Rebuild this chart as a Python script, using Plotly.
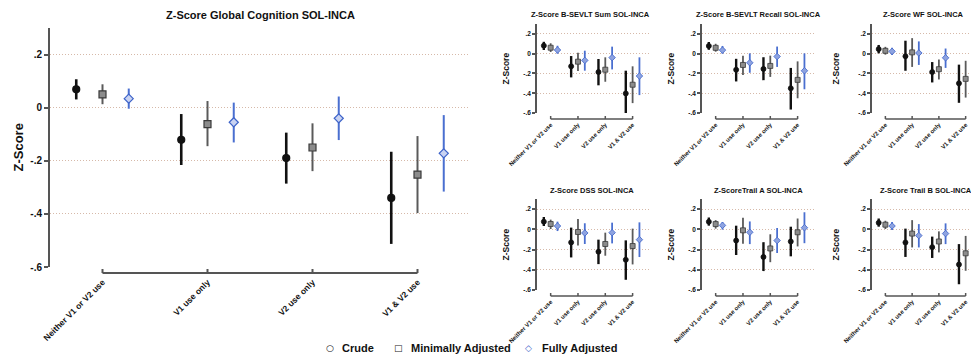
import plotly.graph_objects as go

CATEGORIES = ["Neither V1 or V2 use", "V1 use only", "V2 use only", "V1 & V2 use"]
MODELS = ["Crude", "Minimally Adjusted", "Fully Adjusted"]
Y_TICK_VALUES = [-0.6, -0.4, -0.2, 0, 0.2]
Y_TICK_LABELS = ["-.6", "-.4", "-.2", "0", ".2"]

GLOBAL_CRUDE = [0.069, -0.121, -0.190, -0.340]
GLOBAL_CRUDE_LO = [0.031, -0.216, -0.286, -0.513]
GLOBAL_CRUDE_HI = [0.107, -0.024, -0.094, -0.166]
GLOBAL_MIN = [0.050, -0.062, -0.150, -0.252]
GLOBAL_MIN_LO = [0.013, -0.145, -0.239, -0.397]
GLOBAL_MIN_HI = [0.088, 0.025, -0.059, -0.107]
GLOBAL_FULL = [0.034, -0.055, -0.040, -0.172]
GLOBAL_FULL_LO = [-0.004, -0.131, -0.122, -0.316]
GLOBAL_FULL_HI = [0.072, 0.019, 0.042, -0.028]

SUM_CRUDE = [0.081, -0.128, -0.186, -0.402]
SUM_CRUDE_LO = [0.037, -0.240, -0.320, -0.638]
SUM_CRUDE_HI = [0.120, -0.024, -0.054, -0.172]
SUM_MIN = [0.060, -0.081, -0.162, -0.314]
SUM_MIN_LO = [0.017, -0.176, -0.284, -0.500]
SUM_MIN_HI = [0.105, 0.010, -0.037, -0.128]
SUM_FULL = [0.037, -0.068, -0.040, -0.226]
SUM_FULL_LO = [0.000, -0.172, -0.159, -0.419]
SUM_FULL_HI = [0.080, 0.030, 0.071, -0.037]

RECALL_CRUDE = [0.078, -0.163, -0.154, -0.350]
RECALL_CRUDE_LO = [0.039, -0.281, -0.268, -0.565]
RECALL_CRUDE_HI = [0.118, -0.052, -0.036, -0.144]
RECALL_MIN = [0.059, -0.114, -0.124, -0.265]
RECALL_MIN_LO = [0.020, -0.216, -0.235, -0.451]
RECALL_MIN_HI = [0.100, -0.020, -0.020, -0.078]
RECALL_FULL = [0.036, -0.092, -0.029, -0.173]
RECALL_FULL_LO = [0.000, -0.193, -0.134, -0.360]
RECALL_FULL_HI = [0.078, 0.003, 0.072, 0.003]

WF_CRUDE = [0.046, -0.026, -0.186, -0.300]
WF_CRUDE_LO = [0.003, -0.173, -0.291, -0.497]
WF_CRUDE_HI = [0.088, 0.131, -0.085, -0.111]
WF_MIN = [0.029, 0.013, -0.157, -0.255]
WF_MIN_LO = [-0.010, -0.134, -0.261, -0.444]
WF_MIN_HI = [0.069, 0.157, -0.059, -0.072]
WF_FULL = [0.023, 0.007, -0.042, -0.172]
WF_FULL_LO = [-0.013, -0.114, -0.144, -0.350]
WF_FULL_HI = [0.059, 0.124, 0.052, 0.010]

DSS_CRUDE = [0.076, -0.129, -0.221, -0.301]
DSS_CRUDE_LO = [0.033, -0.278, -0.344, -0.499]
DSS_CRUDE_HI = [0.122, 0.017, -0.102, -0.109]
DSS_MIN = [0.053, -0.026, -0.145, -0.165]
DSS_MIN_LO = [0.003, -0.159, -0.261, -0.347]
DSS_MIN_HI = [0.096, 0.102, -0.033, 0.007]
DSS_FULL = [0.033, -0.036, -0.033, -0.102]
DSS_FULL_LO = [-0.017, -0.145, -0.139, -0.274]
DSS_FULL_HI = [0.076, 0.060, 0.066, 0.069]

TRAILA_CRUDE = [0.075, -0.111, -0.273, -0.120]
TRAILA_CRUDE_LO = [0.036, -0.254, -0.413, -0.267]
TRAILA_CRUDE_HI = [0.117, 0.036, -0.127, 0.026]
TRAILA_MIN = [0.052, -0.010, -0.189, -0.029]
TRAILA_MIN_LO = [0.007, -0.143, -0.325, -0.169]
TRAILA_MIN_HI = [0.091, 0.114, -0.049, 0.107]
TRAILA_FULL = [0.039, -0.029, -0.111, 0.016]
TRAILA_FULL_LO = [-0.003, -0.146, -0.234, -0.137]
TRAILA_FULL_HI = [0.072, 0.078, 0.013, 0.169]

TRAILB_CRUDE = [0.065, -0.130, -0.176, -0.348]
TRAILB_CRUDE_LO = [0.026, -0.273, -0.283, -0.543]
TRAILB_CRUDE_HI = [0.107, 0.007, -0.072, -0.146]
TRAILB_MIN = [0.046, -0.042, -0.120, -0.237]
TRAILB_MIN_LO = [0.003, -0.179, -0.228, -0.410]
TRAILB_MIN_HI = [0.085, 0.091, -0.020, -0.065]
TRAILB_FULL = [0.033, -0.062, -0.042, -0.190]
TRAILB_FULL_LO = [-0.007, -0.179, -0.146, -0.360]
TRAILB_FULL_HI = [0.072, 0.052, 0.059, -0.020]

PANELS = [
    ("Z-Score Global Cognition SOL-INCA",
     [(GLOBAL_CRUDE, GLOBAL_CRUDE_LO, GLOBAL_CRUDE_HI), (GLOBAL_MIN, GLOBAL_MIN_LO, GLOBAL_MIN_HI),
      (GLOBAL_FULL, GLOBAL_FULL_LO, GLOBAL_FULL_HI)]),
    ("Z-Score B-SEVLT Sum SOL-INCA",
     [(SUM_CRUDE, SUM_CRUDE_LO, SUM_CRUDE_HI), (SUM_MIN, SUM_MIN_LO, SUM_MIN_HI),
      (SUM_FULL, SUM_FULL_LO, SUM_FULL_HI)]),
    ("Z-Score B-SEVLT Recall SOL-INCA",
     [(RECALL_CRUDE, RECALL_CRUDE_LO, RECALL_CRUDE_HI), (RECALL_MIN, RECALL_MIN_LO, RECALL_MIN_HI),
      (RECALL_FULL, RECALL_FULL_LO, RECALL_FULL_HI)]),
    ("Z-Score WF SOL-INCA",
     [(WF_CRUDE, WF_CRUDE_LO, WF_CRUDE_HI), (WF_MIN, WF_MIN_LO, WF_MIN_HI),
      (WF_FULL, WF_FULL_LO, WF_FULL_HI)]),
    ("Z-Score DSS SOL-INCA",
     [(DSS_CRUDE, DSS_CRUDE_LO, DSS_CRUDE_HI), (DSS_MIN, DSS_MIN_LO, DSS_MIN_HI),
      (DSS_FULL, DSS_FULL_LO, DSS_FULL_HI)]),
    ("Z-ScoreTrail A SOL-INCA",
     [(TRAILA_CRUDE, TRAILA_CRUDE_LO, TRAILA_CRUDE_HI), (TRAILA_MIN, TRAILA_MIN_LO, TRAILA_MIN_HI),
      (TRAILA_FULL, TRAILA_FULL_LO, TRAILA_FULL_HI)]),
    ("Z-Score Trail B SOL-INCA",
     [(TRAILB_CRUDE, TRAILB_CRUDE_LO, TRAILB_CRUDE_HI), (TRAILB_MIN, TRAILB_MIN_LO, TRAILB_MIN_HI),
      (TRAILB_FULL, TRAILB_FULL_LO, TRAILB_FULL_HI)]),
]

W, H = 971, 360
FONT = "Liberation Sans, Arial, sans-serif"
GRID = "#d6b9a9"
AXC = "#555555"

# layout geometry in pixels: (left, right, top, bottom, xmax, title_x, title_y, ylabel_x, big)
GEOM = [
    (50, 470, 28, 267, 3.5, 260, 15, 18, True),
    (537, 649, 24, 113, 3.6, 590, 15, 505, False),
    (702, 814, 24, 113, 3.6, 758, 15, 670, False),
    (872, 971, 24, 113, 3.2, 923, 15, 835, False),
    (537, 649, 199, 290, 3.6, 592, 190, 505, False),
    (702, 814, 199, 290, 3.6, 758, 190, 670, False),
    (872, 971, 199, 290, 3.2, 926, 190, 835, False),
]

MODEL_STYLE = [
    dict(offset=-0.25, color="#111111", symbol="circle", fill="#111111", fill_small="#111111",
         line="#111111", glyph="○"),
    dict(offset=0.0, color="#5a5a5a", symbol="square", fill="#8c8c8c", fill_small="#8c8c8c",
         line="#3a3a3a", glyph="□"),
    dict(offset=0.25, color="#4a6fd0", symbol="diamond", fill="#c9d3f2", fill_small="#8ea3e0",
         line="#3d63c9", glyph="◇"),
]
LEGEND_PX = [(330, 340), (398, 409), (528, 540)]

def px(p):
    return p / W

def py(p):
    return 1 - p / H

fig = go.Figure()
layout = dict(width=W, height=H, margin=dict(l=0, r=0, t=0, b=0, autoexpand=False),
              paper_bgcolor="white", plot_bgcolor="white", template="none",
              font=dict(family=FONT, color="#111"), showlegend=False)
annotations = []
shapes = []

for i, ((title, series), (l, r, t, b, xmax, tx, ty, ylx, big)) in enumerate(zip(PANELS, GEOM)):
    n = "" if i == 0 else str(i + 1)
    xa, ya = "x" + n, "y" + n
    msize = 7 if big else 5
    thick = (2.6, 2.0, 2.0) if big else (2.4, 1.8, 1.8)
    for k, ((est, lo, hi), st) in enumerate(zip(series, MODEL_STYLE)):
        xs = [j + st["offset"] for j in range(len(CATEGORIES))]
        fig.add_trace(go.Scatter(
            x=xs, y=est, mode="markers", xaxis=xa, yaxis=ya, showlegend=False,
            cliponaxis=False, name=MODELS[k],
            marker=dict(symbol=st["symbol"], size=msize,
                        color=st["fill"] if big else st["fill_small"],
                        line=dict(color=st["line"], width=1.2 if big else 0.8)),
            error_y=dict(type="data", symmetric=False,
                         array=[h - e for h, e in zip(hi, est)],
                         arrayminus=[e - q for e, q in zip(est, lo)],
                         color=st["color"], thickness=thick[k], width=0),
        ))
    tick_fs = 10 if big else 6.5
    cat_fs = 8.5 if big else 6
    layout["xaxis" + n] = dict(
        domain=[px(l), min(px(r), 1.0)], range=[-0.5, xmax], anchor=ya, automargin=False,
        tickvals=list(range(len(CATEGORIES))), ticktext=CATEGORIES, tickangle=-45,
        ticks="outside", ticklen=6 if big else 5, tickcolor="rgba(0,0,0,0)",
        showline=False, showgrid=False, zeroline=False,
        tickfont=dict(size=cat_fs, family=FONT, weight="bold", color="#111"),
    )
    layout["yaxis" + n] = dict(
        domain=[py(b), py(t)], range=[-0.6, 0.3], anchor=xa, automargin=False,
        tickvals=Y_TICK_VALUES, ticktext=Y_TICK_LABELS,
        showline=True, linecolor=AXC, linewidth=2 if big else 1.5,
        ticks="outside", ticklen=4 if big else 3, tickcolor=AXC, tickwidth=2 if big else 1.5,
        showgrid=True, gridcolor=GRID, griddash="1px,2px", gridwidth=1.2 if big else 1,
        zeroline=False,
        tickfont=dict(size=tick_fs, family=FONT, weight="bold", color="#111"),
    )
    # detached category axis line
    yline = py(b + 6)
    shapes.append(dict(type="line", xref=xa, yref="paper", x0=0, x1=len(CATEGORIES) - 1,
                       y0=yline, y1=yline, line=dict(color=AXC, width=2 if big else 1.5)))
    for j in range(len(CATEGORIES)):
        shapes.append(dict(type="line", xref=xa, yref="paper", x0=j, x1=j,
                           y0=yline, y1=yline + (4 if big else 3) / H,
                           line=dict(color=AXC, width=2 if big else 1.5)))
    annotations.append(dict(text=title, xref="paper", yref="paper", x=px(tx), y=py(ty),
                            xanchor="center", yanchor="middle", showarrow=False,
                            font=dict(size=11 if big else 7.5, family=FONT, weight="bold", color="#111")))
    annotations.append(dict(text="Z-Score", xref="paper", yref="paper", x=px(ylx), y=py((t + b) / 2),
                            textangle=-90, xanchor="center", yanchor="middle", showarrow=False,
                            font=dict(size=13 if big else 8.5, family=FONT, weight="bold", color="#111")))

# legend drawn as text entries
for k, st in enumerate(MODEL_STYLE):
    gx, tx = LEGEND_PX[k]
    annotations.append(dict(text=st["glyph"], xref="paper", yref="paper", x=px(gx), y=py(348),
                            xanchor="center", yanchor="middle", showarrow=False,
                            font=dict(size=9, family="DejaVu Sans", weight="bold",
                                      color=st["line"] if k != 1 else "#222")))
    annotations.append(dict(text=MODELS[k], xref="paper", yref="paper", x=px(tx), y=py(348),
                            xanchor="left", yanchor="middle", showarrow=False,
                            font=dict(size=11, family=FONT, weight="bold", color="#111")))

layout["annotations"] = annotations
layout["shapes"] = shapes
fig.update_layout(**layout)
fig.write_html("out.html", config={"displayModeBar": False},
               post_script="document.body.style.margin='0';document.body.style.overflow='hidden';")
